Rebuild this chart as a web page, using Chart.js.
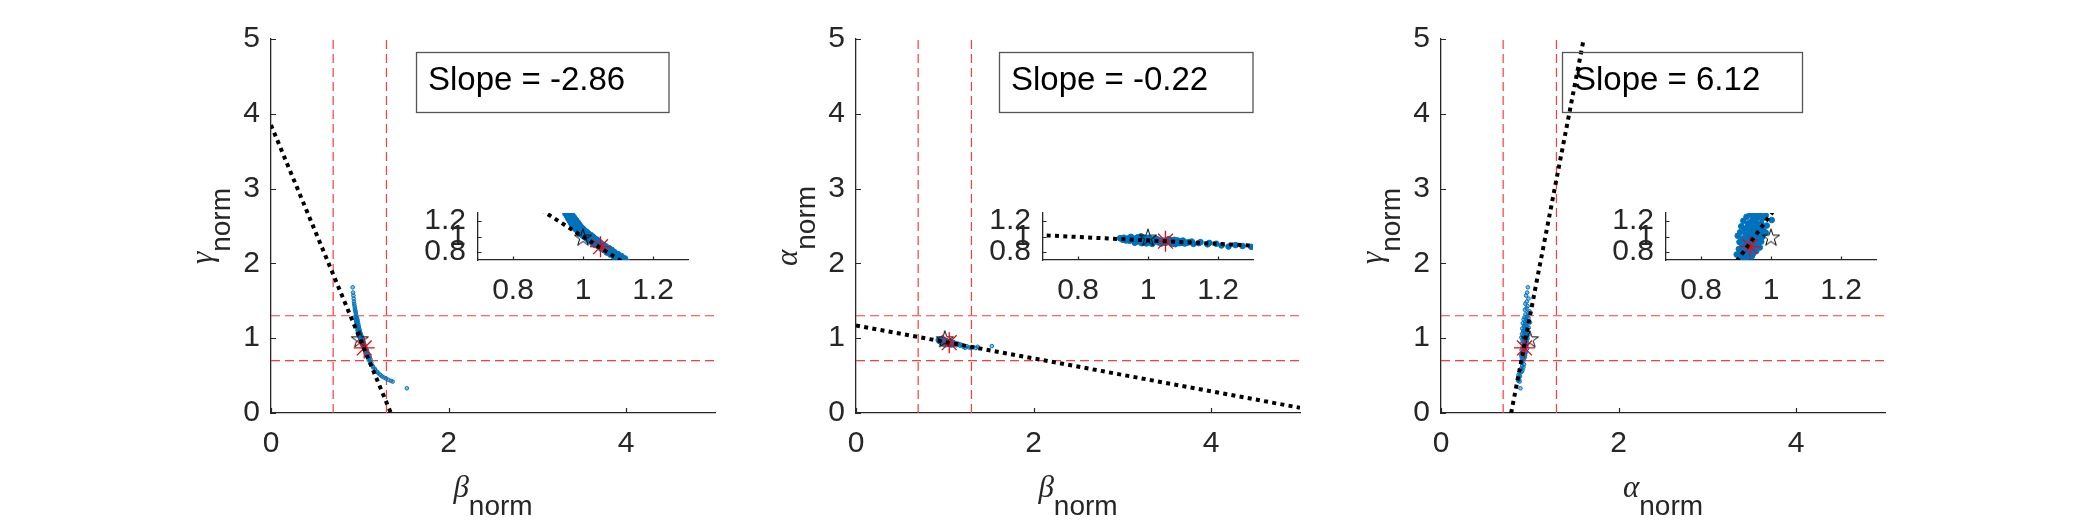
<!DOCTYPE html>
<html>
<head>
<meta charset="utf-8">
<title>Normalised parameter scatter</title>
<script src="https://cdn.jsdelivr.net/npm/chart.js@4.4.0/dist/chart.umd.min.js"></script>
<style>
  html, body { margin: 0; padding: 0; background: #fff; }
  #fig { position: relative; width: 2083px; height: 521px; overflow: hidden; background: #fff; }
  #fig canvas { position: absolute; }
</style>
</head>
<body>
<div id="fig"></div>
<script>
// sampled parameters (normalised), one entry per sample
const betaNorm = [
  0.920, 0.924, 0.928, 0.931, 0.934, 0.937, 0.941, 0.944, 0.947, 0.951, 0.954, 0.957,
  0.950, 0.962, 0.970, 0.955, 0.965, 0.975, 0.958, 0.968, 0.980, 0.962, 0.972, 0.985,
  0.966, 0.978, 0.990, 0.970, 0.982, 0.995, 0.975, 0.988, 1.000, 0.980,
  0.992, 1.005, 0.985, 1.010, 0.995, 1.002, 1.015, 0.990, 1.008, 1.022, 0.998, 1.012,
  1.028, 1.004, 1.018, 1.032, 1.010, 1.025, 1.040, 1.015, 1.030, 1.045, 1.022, 1.038,
  1.050, 1.028,
  1.042, 1.058, 1.035, 1.050, 1.065, 1.045, 1.060, 1.075, 1.052, 1.068, 1.082, 1.060,
  1.075, 1.090, 1.068, 1.085, 1.100, 1.078, 1.095, 1.110, 1.088, 1.105, 1.120, 1.100,
  1.115, 1.130, 1.125, 1.145, 1.150, 1.170, 1.175, 1.195, 1.210, 1.230, 1.250, 1.270,
  1.295, 1.320, 1.350, 1.370, 1.530
];
const gammaNorm = [
  1.68, 1.61, 1.57, 1.53, 1.49, 1.46, 1.43, 1.40, 1.38, 1.36, 1.34, 1.32,
  1.29, 1.28, 1.27, 1.26, 1.25, 1.24, 1.23, 1.22, 1.21, 1.20, 1.19, 1.18,
  1.17, 1.16, 1.15, 1.14, 1.13, 1.12, 1.11, 1.105, 1.10, 1.09,
  1.08, 1.075, 1.07, 1.06, 1.055, 1.05, 1.04, 1.035, 1.03, 1.02, 1.015, 1.01,
  1.00, 0.995, 0.99, 0.98, 0.975, 0.97, 0.96, 0.955, 0.95, 0.94, 0.935, 0.93,
  0.92, 0.91,
  0.905, 0.895, 0.89, 0.88, 0.875, 0.87, 0.86, 0.85, 0.845, 0.84, 0.83, 0.825,
  0.815, 0.80, 0.795, 0.785, 0.775, 0.77, 0.76, 0.75, 0.745, 0.735, 0.72, 0.71,
  0.69, 0.67, 0.65, 0.63, 0.61, 0.59, 0.57, 0.55, 0.53, 0.51, 0.49, 0.475,
  0.46, 0.445, 0.43, 0.42, 0.33
];
const alphaNorm = [
  0.978, 0.970, 0.958, 0.985, 0.966, 0.950, 0.975, 0.962, 0.945, 0.996, 0.983, 0.952,
  0.968, 0.941, 0.985, 0.957, 0.930, 0.962, 0.975, 0.948, 1.002, 0.921, 0.955, 0.940,
  0.972, 0.934, 0.962, 0.988, 0.915, 0.950, 0.938, 0.968, 0.925, 0.958,
  0.978, 0.944, 0.930, 0.962, 0.912, 0.985, 0.948, 0.955, 0.928, 0.970, 0.940, 0.905,
  0.958, 0.975, 0.935, 0.950, 0.918, 0.965, 0.942, 0.958, 0.925, 0.948, 0.972, 0.910,
  0.938, 0.955,
  0.930, 0.962, 0.945, 0.918, 0.952, 0.935, 0.968, 0.925, 0.942, 0.908, 0.950, 0.930,
  0.958, 0.915, 0.940, 0.925, 0.948, 0.902, 0.935, 0.920, 0.945, 0.910, 0.930, 0.918,
  0.925, 0.905, 0.935, 0.915, 0.928, 0.900, 0.918, 0.908, 0.885, 0.872, 0.890, 0.878,
  0.868, 0.880, 0.870, 0.885, 0.895
];

// [alpha, beta, gamma]
const trueValue = [1, 1, 1];
const estValue = [0.94, 1.05, 0.87];

const bounds = [0.7, 1.3];
const slopes = [-2.86, -0.22, 6.12];

// end points of the fitted lines
const fitX1 = [0, 1.35],   fitY1 = [3.85, 0];
const fitX2 = [0, 5],      fitY2 = [1.17, 0.07];
const fitX3 = [0.79, 1.607], fitY3 = [0, 5];

const mainRange = [0, 5];
const mainTicksX = [0, 2, 4];
const mainTicksY = [0, 1, 2, 3, 4, 5];
const insetRange = [0.7, 1.3];
const insetTicks = [0.8, 1, 1.2];

const SANS = '"Liberation Sans", Arial, Helvetica, sans-serif';
const SERIF = '"Liberation Serif", "Times New Roman", serif';
const AXIS = '#262626';
const BLUE = '#0072BD';

const fig = document.getElementById('fig');

const panels = [
  { left: 271, xs: betaNorm, ys: gammaNorm, xi: 1, yi: 2, xName: 'β', yName: 'γ',
    fitX: fitX1, fitY: fitY1, slope: slopes[0], insetLeft: 478, boxLeft: 416.5, boxWidth: 252.5 },
  { left: 856, xs: betaNorm, ys: alphaNorm, xi: 1, yi: 0, xName: 'β', yName: 'α',
    fitX: fitX2, fitY: fitY2, slope: slopes[1], insetLeft: 1042.5, boxLeft: 999.5, boxWidth: 253.5 },
  { left: 1441, xs: alphaNorm, ys: gammaNorm, xi: 0, yi: 2, xName: 'α', yName: 'γ',
    fitX: fitX3, fitY: fitY3, slope: slopes[2], insetLeft: 1666, boxLeft: 1562.5, boxWidth: 240 }
];

function makeCanvas(left, top, w, h) {
  const c = document.createElement('canvas');
  c.width = w; c.height = h;
  c.style.left = left + 'px'; c.style.top = top + 'px';
  c.style.width = w + 'px'; c.style.height = h + 'px';
  fig.appendChild(c);
  return c;
}

// MATLAB style pentagram marker
function makePentagram(r) {
  const s = Math.ceil(r * 2 + 4);
  const c = document.createElement('canvas');
  c.width = s; c.height = s;
  const g = c.getContext('2d');
  g.strokeStyle = '#000';
  g.lineWidth = 1;
  g.beginPath();
  for (let i = 0; i < 10; i++) {
    const rad = i % 2 ? r * 0.382 : r;
    const ang = -Math.PI / 2 + i * Math.PI / 5;
    const px = s / 2 + rad * Math.cos(ang), py = s / 2 + 1.5 + rad * Math.sin(ang);
    if (i === 0) g.moveTo(px, py); else g.lineTo(px, py);
  }
  g.closePath();
  g.stroke();
  return c;
}
const starMarker = makePentagram(9);

const toPoints = (xs, ys) => xs.map((v, i) => ({ x: v, y: ys[i] }));

const inwardTicks = {
  id: 'inwardTicks',
  afterDraw(chart, args, opts) {
    const { ctx, chartArea: a, scales: { x, y } } = chart;
    ctx.save();
    ctx.strokeStyle = AXIS;
    ctx.lineWidth = 1.2;
    ctx.beginPath();
    x.ticks.forEach(t => {
      const px = Math.round(x.getPixelForValue(t.value)) + 0.5;
      ctx.moveTo(px, a.bottom); ctx.lineTo(px, a.bottom - opts.len);
    });
    y.ticks.forEach(t => {
      const py = Math.round(y.getPixelForValue(t.value)) + 0.5;
      ctx.moveTo(a.left, py); ctx.lineTo(a.left + opts.len, py);
    });
    ctx.stroke();
    ctx.restore();
  }
};

const decorations = {
  id: 'decorations',
  afterDraw(chart, args, o) {
    const { ctx, chartArea: a } = chart;
    const gFont = 'italic 31px ' + SERIF;
    const nFont = '28px ' + SANS;
    ctx.save();
    ctx.fillStyle = AXIS;
    ctx.textAlign = 'left';
    ctx.textBaseline = 'alphabetic';

    // x label
    ctx.font = gFont;
    let wg = ctx.measureText(o.xName).width;
    ctx.font = nFont;
    const wn = ctx.measureText('norm').width;
    let x0 = (a.left + a.right) / 2 - (wg + wn) / 2;
    ctx.font = gFont; ctx.fillText(o.xName, x0, a.bottom + 84);
    ctx.font = nFont; ctx.fillText('norm', x0 + wg, a.bottom + 102);

    // y label, rotated
    ctx.save();
    ctx.translate(a.left - 59, (a.top + a.bottom) / 2);
    ctx.rotate(-Math.PI / 2);
    ctx.font = gFont;
    wg = ctx.measureText(o.yName).width;
    x0 = -(wg + wn) / 2;
    ctx.fillText(o.yName, x0, 0);
    ctx.font = nFont; ctx.fillText('norm', x0 + wg, 18);
    ctx.restore();

    // slope text box
    const bx = a.left + o.boxLeft, by = 52.5;
    ctx.strokeStyle = '#555';
    ctx.lineWidth = 1.3;
    ctx.strokeRect(bx, by, o.boxWidth, 60);
    ctx.fillStyle = '#000';
    ctx.font = '33px ' + SANS;
    ctx.fillText('Slope = ' + o.slope.toFixed(2), bx + 11.5, 89.5);
    ctx.restore();
  }
};

function axisOptions(range, ticks, fitSize, pad, horizontal) {
  return {
    type: 'linear',
    position: horizontal ? 'bottom' : 'left',
    min: range[0], max: range[1],
    afterBuildTicks: s => { s.ticks = ticks.map(v => ({ value: v })); },
    afterFit: s => { if (horizontal) s.height = fitSize; else s.width = fitSize; },
    grid: { display: false, drawTicks: false },
    border: { display: true, color: AXIS, width: 1.3 },
    ticks: {
      font: { family: SANS, size: 30 }, color: AXIS, padding: pad,
      autoSkip: false, maxRotation: 0, callback: v => String(v)
    }
  };
}

function buildDatasets(p, withBounds) {
  const sets = [
    { data: toPoints(p.fitX, p.fitY), showLine: true, pointRadius: 0,
      borderColor: '#000', borderWidth: 4, borderDash: [4, 4.3], borderCapStyle: 'butt', order: 0, clip: 0 },
    { data: [{ x: estValue[p.xi], y: estValue[p.yi] }], pointStyle: 'star', pointRadius: 10.5,
      borderColor: '#ff0000', borderWidth: 1.3, order: 1, clip: 0 },
    { data: [{ x: trueValue[p.xi], y: trueValue[p.yi] }], pointStyle: starMarker, pointRadius: 10,
      order: 2, clip: 0 },
    { data: toPoints(p.xs, p.ys), pointStyle: 'circle', pointRadius: withBounds ? 1.8 : 2.8,
      borderColor: BLUE, backgroundColor: withBounds ? 'rgba(0,114,189,0.45)' : BLUE,
      borderWidth: 1, order: 3, clip: 0 }
  ];
  if (withBounds) {
    bounds.forEach(b => {
      sets.push({ data: [{ x: b, y: mainRange[0] }, { x: b, y: mainRange[1] }], showLine: true, pointRadius: 0,
        borderColor: '#ff3b3b', borderWidth: 1.2, borderDash: [9, 5], order: 4, clip: 0 });
      sets.push({ data: [{ x: mainRange[0], y: b }, { x: mainRange[1], y: b }], showLine: true, pointRadius: 0,
        borderColor: '#ff3b3b', borderWidth: 1.2, borderDash: [9, 5], order: 4, clip: 0 });
    });
  }
  return sets;
}

const common = {
  responsive: false,
  maintainAspectRatio: false,
  animation: false,
  events: [],
  plugins: { legend: { display: false }, tooltip: { enabled: false } }
};

panels.forEach(p => {
  // main axes: plot area 444 x 374 starting at (p.left, 39)
  const yW = 100, padR = 30;
  const main = makeCanvas(p.left - yW, 0, yW + 444 + padR, 521);
  new Chart(main, {
    type: 'scatter',
    data: { datasets: buildDatasets(p, true) },
    options: Object.assign({}, common, {
      layout: { autoPadding: false, padding: { left: 0, top: 39, right: padR, bottom: 0 } },
      scales: {
        x: axisOptions(mainRange, mainTicksX, 521 - 413, 13, true),
        y: axisOptions(mainRange, mainTicksY, yW, 11, false)
      },
      plugins: Object.assign({}, common.plugins, {
        inwardTicks: { len: 5 },
        decorations: { xName: p.xName, yName: p.yName, slope: p.slope,
          boxLeft: p.boxLeft - p.left, boxWidth: p.boxWidth }
      })
    }),
    plugins: [inwardTicks, decorations]
  });

  // inset axes: plot area 210 x 52 starting at (p.insetLeft, 208)
  const iyW = 70, itop = 25, iright = 15, ixH = 55;
  const inset = makeCanvas(p.insetLeft - iyW, 208 - itop, iyW + 210 + iright, itop + 52 + ixH);
  new Chart(inset, {
    type: 'scatter',
    data: { datasets: buildDatasets(p, false) },
    options: Object.assign({}, common, {
      layout: { autoPadding: false, padding: { left: 0, top: itop, right: iright, bottom: 0 } },
      scales: {
        x: axisOptions(insetRange, insetTicks, ixH, 13, true),
        y: axisOptions(insetRange, insetTicks, iyW, 12, false)
      },
      plugins: Object.assign({}, common.plugins, { inwardTicks: { len: 3.5 } })
    }),
    plugins: [inwardTicks]
  });
});
</script>
</body>
</html>
